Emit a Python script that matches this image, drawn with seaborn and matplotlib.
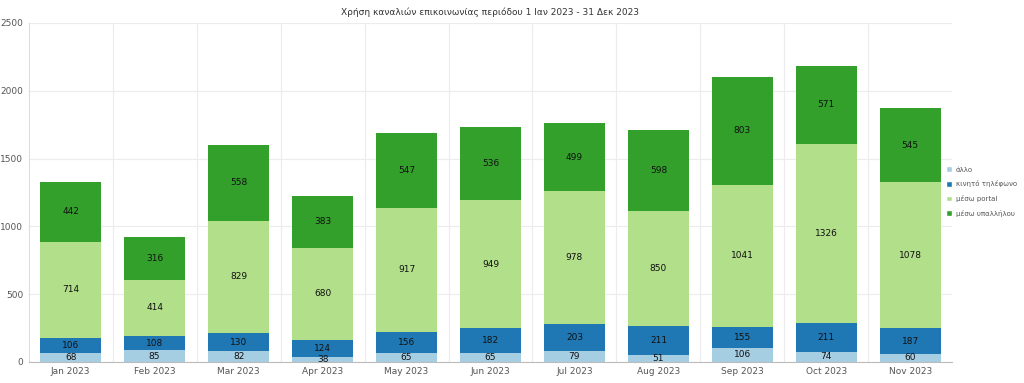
import matplotlib

matplotlib.use("Agg")

import matplotlib.pyplot as plt
import numpy as np
import pandas as pd
import seaborn as sns
from matplotlib.patches import Patch

months = ["Jan 2023", "Feb 2023", "Mar 2023", "Apr 2023", "May 2023", "Jun 2023",
          "Jul 2023", "Aug 2023", "Sep 2023", "Oct 2023", "Nov 2023"]
allo = [68, 85, 82, 38, 65, 65, 79, 51, 106, 74, 60]
kinito = [106, 108, 130, 124, 156, 182, 203, 211, 155, 211, 187]
portal = [714, 414, 829, 680, 917, 949, 978, 850, 1041, 1326, 1078]
ypallilos = [442, 316, 558, 383, 547, 536, 499, 598, 803, 571, 545]

series_names = ["άλλο", "κινητό τηλέφωνο", "μέσω portal", "μέσω υπαλλήλου"]
colors = ["#a6cee3", "#1f78b4", "#b2df8a", "#33a02c"]

sns.set_style("white")
plt.rcParams["font.family"] = ["DejaVu Sans"]

layers = np.array([allo, kinito, portal, ypallilos], dtype=float)
tops = layers.cumsum(axis=0)

fig = plt.figure(figsize=(10.24, 3.83), dpi=100)
ax = fig.add_axes([0.028, 0.055, 0.902, 0.885])

# stacked look: draw cumulative totals from the top layer down
for i in range(len(series_names) - 1, -1, -1):
    df = pd.DataFrame({"month": months, "value": tops[i]})
    sns.barplot(data=df, x="month", y="value", color=colors[i], width=0.72,
                saturation=1, ax=ax, zorder=2, edgecolor="none")

for i in range(len(series_names)):
    bottoms = tops[i] - layers[i]
    for j, v in enumerate(layers[i]):
        ax.text(j, bottoms[j] + v / 2, f"{int(v)}", ha="center", va="center",
                fontsize=6.5, color="#111111", zorder=3)

ax.set_xlim(-0.5, len(months) - 0.5)
ax.set_ylim(0, 2500)
ax.set_yticks(range(0, 2501, 500))
ax.set_xlabel("")
ax.set_ylabel("")
ax.set_axisbelow(True)
ax.yaxis.grid(True, color="#ececec", linewidth=0.8)
for b in np.arange(0.5, len(months) - 0.5, 1):
    ax.axvline(b, color="#ececec", linewidth=0.8, zorder=0)
ax.tick_params(axis="both", labelsize=6.5, colors="#555555", length=0, pad=4)
for s in ["top", "right"]:
    ax.spines[s].set_visible(False)
ax.spines["left"].set_color("#dddddd")
ax.spines["bottom"].set_color("#bbbbbb")
ax.set_title("Χρήση καναλιών επικοινωνίας περιόδου 1 Ιαν 2023 - 31 Δεκ 2023",
             fontsize=6.5, color="#333333", pad=6)

handles = [Patch(facecolor=c, label=n) for c, n in zip(colors, series_names)]
fig.legend(handles=handles, loc="center left", bbox_to_anchor=(0.918, 0.5),
           frameon=False, fontsize=5, handlelength=0.8, handleheight=0.9,
           labelcolor="#555555", handletextpad=0.6, labelspacing=1.1)

fig.savefig("out.png", dpi=100)
